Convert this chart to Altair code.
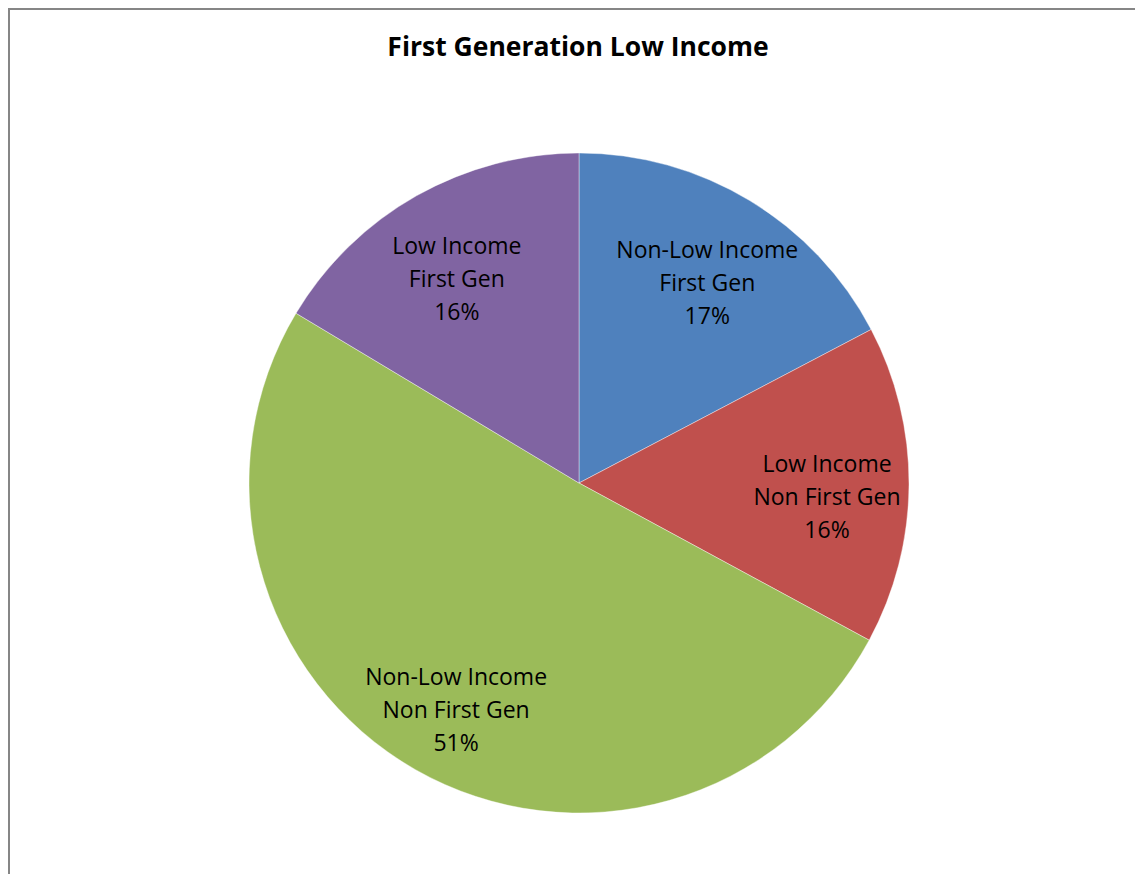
import altair as alt
import pandas as pd

title_text = "First Generation Low Income"
categories = [
    "Non-Low Income\nFirst Gen",
    "Low Income\nNon First Gen",
    "Non-Low Income\nNon First Gen",
    "Low Income\nFirst Gen",
]
values = [17.3, 15.6, 50.7, 16.4]
colors = ["#4F81BD", "#C0504D", "#9BBB59", "#8064A2"]

W, H = 1127, 866
CX, CY = 571, 475

df = pd.DataFrame({"category": categories, "value": values, "order": list(range(len(categories)))})

base = alt.Chart(df).transform_joinaggregate(total="sum(value)").transform_calculate(
    label="datum.category + '\\n' + format(datum.value / datum.total, '.0%')"
)

theta = alt.Theta("value:Q", stack=True)
order = alt.Order("order:Q", sort="ascending")

pie = base.mark_arc(radius=330, stroke="#ffffff", strokeWidth=0.4).encode(
    theta=theta,
    order=order,
    color=alt.Color("category:N", scale=alt.Scale(domain=categories, range=colors), legend=None),
    x=alt.value(CX),
    y=alt.value(CY),
)

labels = base.mark_text(
    radius=248, dy=-20, fontSize=23, font="Open Sans", lineBreak="\n", lineHeight=33,
    color="#000000", align="center", baseline="middle",
).encode(
    theta=theta,
    order=order,
    text="label:N",
    x=alt.value(CX),
    y=alt.value(CY),
)

one = pd.DataFrame({"t": [title_text]})
title = alt.Chart(one).mark_text(
    fontSize=26.5, font="Open Sans", fontWeight="bold", color="#000000", align="center", baseline="middle"
).encode(text="t:N", x=alt.value(CX - 1), y=alt.value(40))

left_border = alt.Chart(one).mark_rule(color="#868686", strokeWidth=2).encode(
    x=alt.value(1), y=alt.value(0), y2=alt.value(H)
)
top_border = alt.Chart(one).mark_rule(color="#868686", strokeWidth=2).encode(
    x=alt.value(0), x2=alt.value(W), y=alt.value(1)
)

chart = alt.layer(pie, labels, title, left_border, top_border).properties(
    width=W, height=H, autosize=alt.AutoSizeParams(type="none"), padding=0, background="#ffffff"
).configure_view(stroke=None)

chart.save("out.html", embed_options={"renderer": "svg", "actions": False})
